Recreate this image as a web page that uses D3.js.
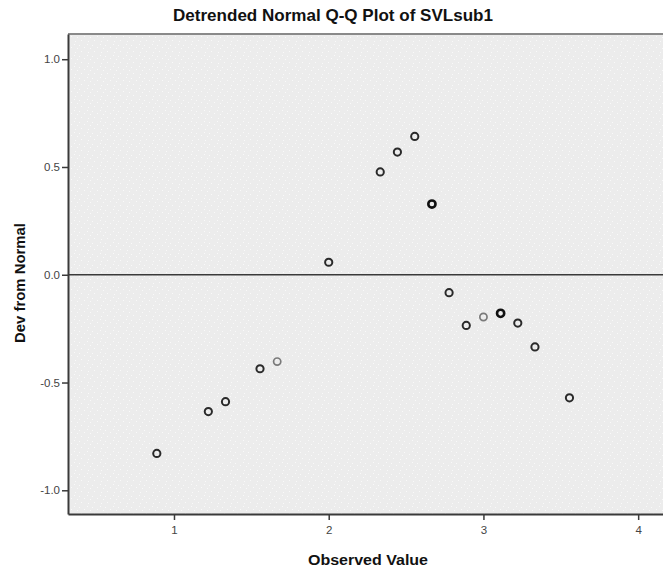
<!DOCTYPE html>
<html>
<head>
<meta charset="utf-8">
<script src="https://cdn.jsdelivr.net/npm/d3@7"></script>
<style>
  html, body { margin: 0; padding: 0; background: #fff; }
  svg { display: block; }
  text { font-family: "Liberation Sans", Arial, sans-serif; }
</style>
</head>
<body>
<svg id="chart" width="663" height="571"></svg>
<script>
// Observed values (scale means) and their deviation from the expected normal
const observedValues = [0.889, 1.222, 1.333, 1.556, 1.667, 2.0, 2.333, 2.444, 2.556, 2.667,
                        2.778, 2.889, 3.0, 3.111, 3.222, 3.333, 3.556];
const devFromNormal  = [-0.829, -0.635, -0.589, -0.436, -0.403, 0.058, 0.477, 0.569, 0.642, 0.328,
                        -0.083, -0.235, -0.196, -0.179, -0.224, -0.335, -0.571];
// number of cases sharing each point (overlaps render darker)
const caseCounts     = [2, 2, 2, 2, 1, 2, 2, 2, 2, 3,
                        2, 2, 1, 3, 2, 2, 2];
const xTicks = [1, 2, 3, 4];
const yTicks = [-1.0, -0.5, 0.0, 0.5, 1.0];

const chartTitle = "Detrended Normal Q-Q Plot of SVLsub1";
const xTitle = "Observed Value";
const yTitle = "Dev from Normal";

const svg = d3.select("#chart");
const plot = { left: 68, top: 34, right: 664, bottom: 514 };

const x = d3.scaleLinear().domain([0.315, 4.167]).range([plot.left, plot.right]);
const y = d3.scaleLinear().domain([-1.11, 1.117]).range([plot.bottom, plot.top]);

// speckled panel background
const defs = svg.append("defs");
const pat = defs.append("pattern")
  .attr("id", "speckle").attr("patternUnits", "userSpaceOnUse")
  .attr("width", 13).attr("height", 11);
pat.append("rect").attr("width", 13).attr("height", 11).attr("fill", "#ececec");
[[1, 1], [6, 3], [3, 7], [10, 8], [9, 0], [12, 4]].forEach(([px, py]) => {
  pat.append("rect").attr("x", px).attr("y", py).attr("width", 1).attr("height", 1)
    .attr("fill", "#f9f9f9");
});

svg.append("rect")
  .attr("x", plot.left).attr("y", plot.top)
  .attr("width", plot.right - plot.left).attr("height", plot.bottom - plot.top)
  .attr("fill", "url(#speckle)");

// top frame line
svg.append("line")
  .attr("x1", plot.left).attr("x2", plot.right)
  .attr("y1", plot.top).attr("y2", plot.top)
  .attr("stroke", "#8a8a8a").attr("stroke-width", 2);

// axes (hyphen-minus for negative labels)
const fmtY = d => d3.format(".1f")(d).replace("\u2212", "-");
const xAxis = d3.axisBottom(x).tickValues(xTicks).tickFormat(d3.format("d"))
  .tickSizeOuter(0).tickSizeInner(6).tickPadding(6);
const yAxis = d3.axisLeft(y).tickValues(yTicks).tickFormat(fmtY)
  .tickSizeOuter(0).tickSizeInner(6).tickPadding(2);

const gx = svg.append("g").attr("transform", `translate(0,${plot.bottom})`).call(xAxis);
const gy = svg.append("g").attr("transform", `translate(${plot.left},0)`).call(yAxis);

[gx, gy].forEach(g => {
  g.select(".domain").attr("stroke", "#3a3a3a").attr("stroke-width", 2);
  g.selectAll(".tick line").attr("stroke", "#3a3a3a").attr("stroke-width", 1.5);
  g.selectAll(".tick text")
    .attr("fill", "#444").attr("font-size", 11.5);
});

// zero reference line
svg.append("line")
  .attr("x1", plot.left).attr("x2", plot.right)
  .attr("y1", y(0)).attr("y2", y(0))
  .attr("stroke", "#3a3a3a").attr("stroke-width", 1.6);

// points
const pts = observedValues.map((v, i) => ({ v, d: devFromNormal[i], n: caseCounts[i] }));
const strokeFor = n => n === 1 ? "#7a7a7a" : n === 2 ? "#2a2a2a" : "#111";
const widthFor = n => n === 1 ? 1.7 : n === 2 ? 2.0 : 2.6;

svg.append("g").selectAll("circle")
  .data(pts).join("circle")
  .attr("cx", p => x(p.v)).attr("cy", p => y(p.d))
  .attr("r", 3.6)
  .attr("fill", "none")
  .attr("stroke", p => strokeFor(p.n))
  .attr("stroke-width", p => widthFor(p.n));

// titles
svg.append("text")
  .attr("x", 333).attr("y", 21)
  .attr("text-anchor", "middle")
  .attr("font-size", 16.5).attr("font-weight", "bold").attr("fill", "#111")
  .attr("textLength", 320).attr("lengthAdjust", "spacingAndGlyphs")
  .text(chartTitle);

svg.append("text")
  .attr("x", 368).attr("y", 565)
  .attr("text-anchor", "middle")
  .attr("font-size", 14).attr("font-weight", "bold").attr("fill", "#111")
  .attr("textLength", 120).attr("lengthAdjust", "spacingAndGlyphs")
  .text(xTitle);

svg.append("text")
  .attr("transform", `translate(25,283) rotate(-90)`)
  .attr("text-anchor", "middle")
  .attr("font-size", 14).attr("font-weight", "bold").attr("fill", "#111")
  .attr("textLength", 120).attr("lengthAdjust", "spacingAndGlyphs")
  .text(yTitle);
</script>
</body>
</html>
